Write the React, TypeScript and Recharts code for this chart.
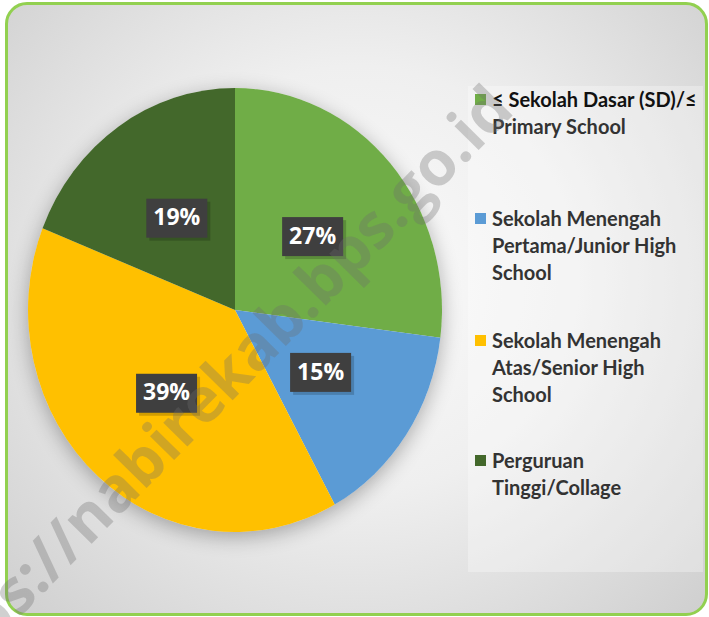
import React from "react";
import { Cell, Legend, Pie, PieChart, Sector } from "recharts";

const categories = [
  "≤ Sekolah Dasar (SD)/≤ Primary School",
  "Sekolah Menengah Pertama/Junior High School",
  "Sekolah Menengah Atas/Senior High School",
  "Perguruan Tinggi/Collage"
];
const shares = [27, 15, 39, 19];
const colors = ["#70AD47", "#5B9BD5", "#FFC000", "#43682B"];
const legendLines = [
  ["≤ Sekolah Dasar (SD)/≤", "Primary School"],
  ["Sekolah Menengah", "Pertama/Junior High", "School"],
  ["Sekolah Menengah", "Atas/Senior High", "School"],
  ["Perguruan", "Tinggi/Collage"]
];
const legendTops = [86, 205, 327, 447];

const data = categories.map((name, i) => ({ name, value: shares[i] }));

const RAD = Math.PI / 180;
const CX = 235;
const CY = 310;
const RX = 207;
const RY = 222;
const SY = RY / RX; // the original pie is a little taller than wide

const renderSlice = (props: any) => {
  const { cx, cy } = props;
  return (
    <g transform={`translate(${cx} ${cy}) scale(1 ${SY}) translate(${-cx} ${-cy})`}>
      <Sector {...props} stroke="none" />
    </g>
  );
};

const renderLabel = (props: any) => {
  const { cx, cy, midAngle, outerRadius, value } = props;
  const r = outerRadius * 0.5;
  const x = cx + r * Math.cos(-midAngle * RAD);
  const y = cy + r * Math.sin(-midAngle * RAD) * SY;
  const w = 61;
  const h = 39;
  return (
    <g>
      <rect x={x - w / 2 + 3} y={y - h / 2 + 3} width={w} height={h} fill="rgba(0,0,0,0.18)" />
      <rect x={x - w / 2} y={y - h / 2} width={w} height={h} fill="#3f3f3f" />
      <text
        x={x}
        y={y + 1}
        textAnchor="middle"
        dominantBaseline="middle"
        fill="#ffffff"
        fontFamily="'Open Sans', sans-serif"
        fontWeight={700}
        fontSize={23}>
        {value}%
      </text>
    </g>
  );
};

const renderLegend = () => (
  <div style={{ position: "relative", width: 236, height: 484 }}>
    {legendLines.map((lines, i) => (
      <div key={i} style={{ position: "absolute", left: 0, top: legendTops[i] - 86 }}>
        <div
          style={{
            position: "absolute",
            left: 5,
            top: 8,
            width: 11,
            height: 11,
            background: colors[i]
          }}
        />
        {lines.map((line, j) => (
          <div
            key={j}
            style={{
              marginLeft: 22,
              height: 27,
              lineHeight: "27px",
              fontFamily: "Lato, sans-serif",
              fontWeight: 700,
              fontSize: 20,
              color: i === 0 && j === 0 ? "#111111" : "#333333",
              whiteSpace: "nowrap"
            }}>
            {line}
          </div>
        ))}
      </div>
    ))}
  </div>
);

export default function App() {
  return (
    <div
      style={{
        position: "absolute",
        left: 0,
        top: 0,
        width: 709,
        height: 617,
        background: "#ffffff",
        overflow: "hidden"
      }}>
      <div
        style={{
          position: "absolute",
          left: 5,
          top: 2,
          width: 703,
          height: 614,
          boxSizing: "border-box",
          border: "3px solid #92D050",
          borderRadius: 22,
          background:
            "radial-gradient(ellipse at 50% 45%, #fbfbfb 0%, #efefef 45%, #cfcfcf 100%)"
        }}
      />
      <div
        style={{
          position: "absolute",
          left: 468,
          top: 86,
          width: 235,
          height: 486,
          background: "rgba(255,255,255,0.3)"
        }}
      />
      <div
        style={{
          position: "absolute",
          left: CX - RX,
          top: CY - RY,
          width: RX * 2,
          height: RY * 2,
          borderRadius: "50%",
          boxShadow: "0 5px 20px rgba(0,0,0,0.3)"
        }}
      />
      <div style={{ position: "absolute", left: 0, top: 0 }}>
        <PieChart width={709} height={617} margin={{ top: 0, right: 0, bottom: 0, left: 0 }}>
          <Pie
            data={data}
            dataKey="value"
            nameKey="name"
            cx={CX}
            cy={CY}
            outerRadius={RX}
            startAngle={90}
            endAngle={-270}
            stroke="none"
            shape={renderSlice}
            label={renderLabel}
            labelLine={false}
            isAnimationActive={false}>
            {data.map((d, i) => (
              <Cell key={d.name} fill={colors[i]} />
            ))}
          </Pie>
          <Legend
            content={renderLegend}
            layout="vertical"
            verticalAlign="top"
            align="right"
            wrapperStyle={{ position: "absolute", left: 470, top: 86, width: 236 }}
          />
        </PieChart>
      </div>
      <svg
        width={709}
        height={617}
        style={{ position: "absolute", left: 0, top: 0, pointerEvents: "none" }}>
        <text
          x={0}
          y={0}
          transform="translate(516 112) rotate(-45.5)"
          textAnchor="end"
          fontFamily="'Open Sans', sans-serif"
          fontWeight={700}
          fontSize={62}
          fill="rgba(110,110,110,0.32)">
          https://nabirekab.bps.go.id
        </text>
      </svg>
    </div>
  );
}
